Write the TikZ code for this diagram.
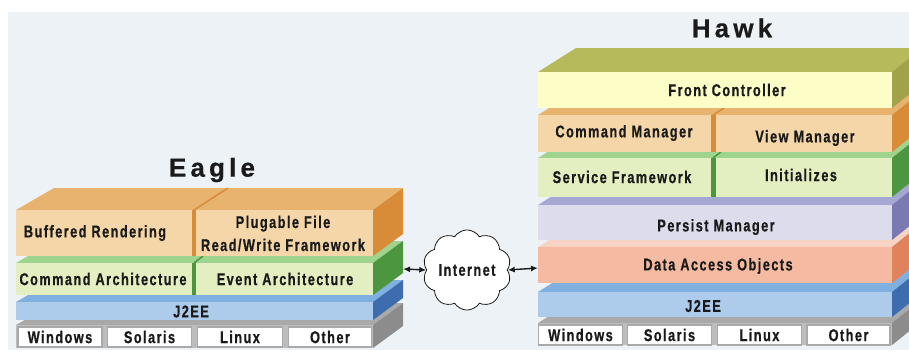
\documentclass[tikz,border=0pt]{standalone}
\usepackage{fontspec}
\setmainfont{Liberation Sans}
\newfontfamily\lblfont{Liberation Sans}[FakeStretch=0.75,LetterSpace=8.5,FakeBold=0.6]
\newfontfamily\ttlfont{Liberation Sans}[LetterSpace=16,FakeBold=0.5]
\usetikzlibrary{shapes.symbols,arrows.meta}
\definecolor{bg}{HTML}{EDF2F6}
\definecolor{orF}{HTML}{F5D6A8}\definecolor{orT}{HTML}{E8B36E}\definecolor{orS}{HTML}{D88C38}
\definecolor{grF}{HTML}{E3EFC0}\definecolor{grT}{HTML}{9ED48E}\definecolor{grS}{HTML}{4C963F}
\definecolor{blF}{HTML}{ADCBEB}\definecolor{blT}{HTML}{80B0E0}\definecolor{blS}{HTML}{3D6DAE}
\definecolor{gyF}{HTML}{BDBDBD}\definecolor{gyT}{HTML}{A9A9A9}\definecolor{gyS}{HTML}{8C8C8C}
\definecolor{ylF}{HTML}{FDFDC8}\definecolor{ylT}{HTML}{B7BA5A}\definecolor{ylS}{HTML}{A2A24A}
\definecolor{lvF}{HTML}{DCDCEC}\definecolor{lvT}{HTML}{A6A8D4}\definecolor{lvS}{HTML}{7A7AB2}
\definecolor{saF}{HTML}{F4BBA2}\definecolor{saT}{HTML}{F7D3C4}\definecolor{saS}{HTML}{E0825C}
\definecolor{txt}{HTML}{1A1A1A}
% name, x1, x2, ytop, ybot, depth, front, top, side
\newcommand\slab[9]{%
  \fill[#8] (#2,#4) -- (#2+38,#4-#6) -- (#3+30,#4-#6) -- (#3,#4) -- cycle;
  \fill[#9] (#3,#4) -- (#3+30,#4-#6) -- (#3+30,#5-#6) -- (#3,#5) -- cycle;
  \node[fill=#7, inner sep=0pt, outer sep=0pt, anchor=north west,
        minimum width={(#3-#2)*1pt}, minimum height={(#5-#4)*1pt}] (#1) at (#2,#4) {};
}
\tikzset{
  lbl/.style={text=txt, inner sep=0pt, font=\lblfont\bfseries\fontsize{17}{23}\selectfont, align=center},
  ttl/.style={text=txt, inner sep=0pt, font=\ttlfont\bfseries\fontsize{26}{26}\selectfont},
  osbox/.style={lbl, fill=white, draw=gyT, line width=1.2pt, minimum height=20pt},
  dbl/.style={{Latex[length=7pt,width=6pt]}-{Latex[length=7pt,width=6pt]}, line width=1.4pt, txt},
}
\begin{document}
\begin{tikzpicture}[x=1pt,y=-1pt]
\useasboundingbox (0,0) rectangle (909,354);
\clip (0,0) rectangle (909,354);
\fill[white] (0,0) rectangle (909,354);
\fill[bg] (8,12) rectangle (909,350);

% ---------------- Eagle ----------------
\node[ttl] (eTitle) at (212,170) {Eagle};
\slab{eBase}{16}{373}{325}{348}{22}{gyF}{gyT}{gyS}
\node[osbox, minimum width=84pt] (eWin) at (60,337) {Windows};
\node[osbox, minimum width=84pt] (eSol) at (149.5,337) {Solaris};
\node[osbox, minimum width=85pt] (eLin) at (240,337) {Linux};
\node[osbox, minimum width=83pt] (eOth) at (330,337) {Other};
\slab{eJ2ee}{16}{373}{302}{320}{22}{blF}{blT}{blS}
\node[lbl] (eJ2eeT) at (191,311.5) {J2EE};
\slab{eGreen}{16}{373}{263}{295}{22}{grF}{grT}{grS}
\fill[grS] (192,263) rectangle (196,295);
\draw[grS, line width=1.5pt] (194,263) -- (203,256);
\node[lbl] (eCmdT) at (103,279) {Command Architecture};
\node[lbl] (eEvtT) at (285,279) {Event Architecture};
\slab{eOrange}{16}{373}{210}{256}{22}{orF}{orT}{orS}
\fill[orS] (192,210) rectangle (196,256);
\draw[orS, line width=1.5pt] (194,210) -- (228,188);
\node[lbl] (eBufT) at (95,233) {Buffered Rendering};
\node[lbl] (ePlugT) at (283,233.5) {Plugable File\\Read/Write Framework};
\coordinate (eR) at (403,269);

% ---------------- Hawk ----------------
\node[ttl] (hTitle) at (732,28) {Hawk};
\slab{hBase}{538}{892}{323}{345}{24}{gyF}{gyT}{gyS}
\node[osbox, minimum width=84pt] (hWin) at (580.5,335) {Windows};
\node[osbox, minimum width=84pt] (hSol) at (669.5,335) {Solaris};
\node[osbox, minimum width=84pt] (hLin) at (759.5,335) {Linux};
\node[osbox, minimum width=83pt] (hOth) at (848.5,335) {Other};
\slab{hJ2ee}{538}{892}{292}{317}{24}{blF}{blT}{blS}
\node[lbl] (hJ2eeT) at (703,306) {J2EE};
\slab{hDao}{538}{892}{247}{283}{24}{saF}{saT}{saS}
\node[lbl] (hDaoT) at (718,266) {Data Access Objects};
\slab{hPers}{538}{892}{205}{240}{24}{lvF}{lvT}{lvS}
\node[lbl] (hPersT) at (716,227) {Persist Manager};
\slab{hGreen}{538}{892}{158}{197}{24}{grF}{grT}{grS}
\fill[grS] (711,158) rectangle (716,197);
\draw[grS, line width=1.5pt] (713,158) -- (722,151);
\node[lbl] (hSrvT) at (622,177) {Service Framework};
\node[lbl] (hInitT) at (801,175) {Initializes};
\slab{hOrange}{538}{892}{115}{152}{24}{orF}{orT}{orS}
\fill[orS] (711,115) rectangle (716,152);
\draw[orS, line width=1.5pt] (713,115) -- (724,108);
\node[lbl] (hCmdT) at (624,133) {Command Manager};
\node[lbl] (hViewT) at (805,138) {View Manager};
\slab{hFront}{538}{892}{72}{108}{24}{ylF}{ylT}{ylS}
\node[lbl] (hFrontT) at (727,90) {Front Controller};
\coordinate (hL) at (538,268);

% ---------------- Internet ----------------
\node[cloud, cloud puffs=10, cloud puff arc=115, aspect=1.15, draw=txt, fill=white,
      line width=0.8pt, minimum width=74pt, minimum height=64pt, inner sep=0pt, lbl] (net) at (467,270) {Internet};
\draw[dbl] (eR) -- (net.west);
\draw[dbl] (net.east) -- (hL);
\end{tikzpicture}
\end{document}
